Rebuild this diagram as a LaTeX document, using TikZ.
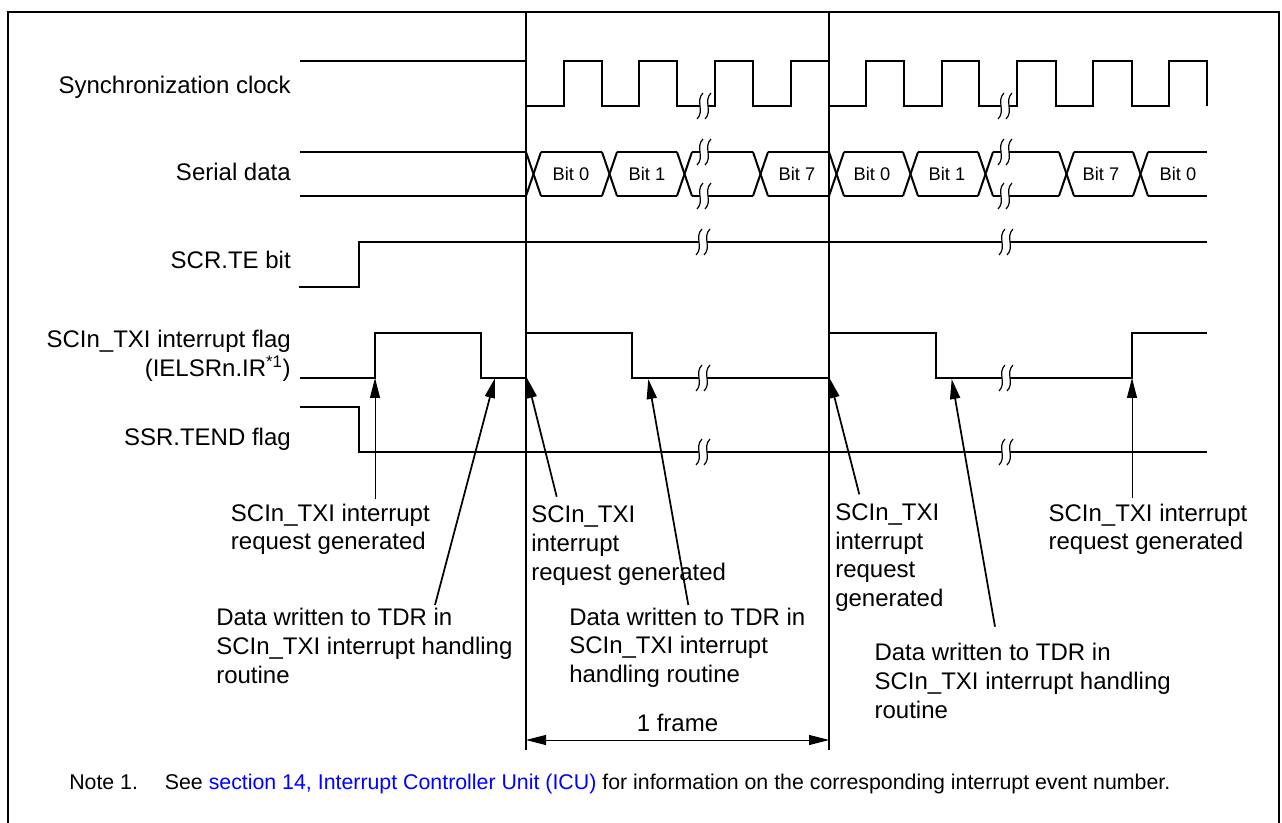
\documentclass[tikz,border=0pt]{standalone}
\usepackage{fontspec}
\setmainfont{Liberation Sans}
\usetikzlibrary{arrows.meta}
\definecolor{linkblue}{RGB}{0,0,255}
\newcommand\BreakMark[2]{%
  \fill[white] (#1-4,#2-3) rectangle (#1+4,#2+3);
  \draw[brkline] (#1-4+3,#2-13) .. controls (#1-4-5,#2-5) and (#1-4+5,#2+5) .. (#1-4-3,#2+13);
  \draw[brkline] (#1+4+3,#2-13) .. controls (#1+4-5,#2-5) and (#1+4+5,#2+5) .. (#1+4-3,#2+13);
}
\begin{document}
\begin{tikzpicture}[x=0.75pt,y=-0.75pt,
  sig/.style={line width=1.5pt},
  frameline/.style={line width=0.9pt},
  brkline/.style={line width=0.9pt},
  ptr/.style={line width=1.3pt,-{Triangle[length=15pt,width=7.5pt]}},
  thinptr/.style={line width=0.75pt,-{Triangle[length=15pt,width=7.5pt]}},
  dim/.style={line width=0.75pt,{Triangle[length=15pt,width=7.5pt]}-{Triangle[length=15pt,width=7.5pt]}},
  lbl/.style={font={\fontsize{18pt}{21.5pt}\selectfont},inner sep=0pt},
  blbl/.style={lbl,anchor=north west,align=left},
  bitlbl/.style={font={\fontsize{13.7pt}{16pt}\selectfont},inner sep=0pt},
  notelbl/.style={font={\fontsize{16pt}{19pt}\selectfont},inner sep=0pt,anchor=base west}]
\useasboundingbox (0,0) rectangle (1282,823);
% outer frame
\draw[line width=2pt] (8,823) -- (8,12) -- (1279,12) -- (1279,823);
% frame boundary lines
\draw[frameline] (526,12) -- (526,750);
\draw[frameline] (829,12) -- (829,750);
% left labels
\node[lbl,anchor=base east] (lclk) at (291,94) {Synchronization clock};
\node[lbl,anchor=base east] (lser) at (291,181) {Serial data};
\node[lbl,anchor=base east] (lte) at (291,269) {SCR.TE bit};
\node[lbl,anchor=north east,align=right] (ltxi) at (291,330) {SCIn\_TXI interrupt flag\\(IELSRn.IR\textsuperscript{*1})};
\node[lbl,anchor=base east] (ltend) at (291,446) {SSR.TEND flag};
% clock
\draw[sig] (300,61) -- (526,61) -- (526,106) -- (564,106) -- (564,61) -- (602,61) -- (602,106)
  -- (639,106) -- (639,61) -- (677,61) -- (677,106) -- (715,106) -- (715,61) -- (753,61)
  -- (753,106) -- (791,106) -- (791,61) -- (829,61) -- (829,106) -- (866,106) -- (866,61)
  -- (904,61) -- (904,106) -- (942,106) -- (942,61) -- (979,61) -- (979,106) -- (1017,106)
  -- (1017,61) -- (1056,61) -- (1056,106) -- (1093,106) -- (1093,61) -- (1132,61) -- (1132,106)
  -- (1169,106) -- (1169,61) -- (1207,61) -- (1207,106);
% serial data
\foreach \a/\b in {300/526,541/602,617/677,692/753,768/829,844/903,918/978,993/1059,1074/1133,1148/1207}
  {\draw[sig] (\a,152) -- (\b,152); \draw[sig] (\a,196) -- (\b,196);}
\foreach \t in {526,602,677,753,829,903,978,1059,1133}
  {\draw[sig] (\t,152) -- (\t+15,196); \draw[sig] (\t,196) -- (\t+15,152);}
\node[bitlbl] (b1) at (571,174) {Bit 0};
\node[bitlbl] (b2) at (647,174) {Bit 1};
\node[bitlbl] (b3) at (797,174) {Bit 7};
\node[bitlbl] (b4) at (872,174) {Bit 0};
\node[bitlbl] (b5) at (947,174) {Bit 1};
\node[bitlbl] (b6) at (1101,174) {Bit 7};
\node[bitlbl] (b7) at (1178,174) {Bit 0};
% SCR.TE
\draw[sig] (299,287) -- (359,287) -- (359,242) -- (1207,242);
% TXI flag
\draw[sig] (300,378) -- (375,378) -- (375,333) -- (481,333) -- (481,378) -- (526,378) -- (526,333)
  -- (632,333) -- (632,378) -- (829,378) -- (829,333) -- (936,333) -- (936,378) -- (1132,378)
  -- (1132,333) -- (1207,333);
% TEND
\draw[sig] (300,407) -- (359,407) -- (359,452) -- (1207,452);
% break marks
\foreach \x/\y in {704/106,704/152,704/196,703/242,703/378,703/452,1005/106,1005/152,1005/196,1006/242,1006/378,1006/452}
  {\BreakMark{\x}{\y}}
% bottom labels
\node[blbl] (l1) at (230.7,503.5) {SCIn\_TXI interrupt\\request generated};
\node[blbl] (l2) at (216,608.2) {Data written to TDR in\\SCIn\_TXI interrupt handling\\routine};
\node[blbl] (l3) at (531,505.8) {SCIn\_TXI\\interrupt\\request generated};
\node[blbl] (l4) at (569,607.5) {Data written to TDR in\\SCIn\_TXI interrupt\\handling routine};
\node[blbl] (l5) at (835,503.5) {SCIn\_TXI\\interrupt\\request\\generated};
\node[blbl] (l6) at (874.3,643.2) {Data written to TDR in\\SCIn\_TXI interrupt handling\\routine};
\node[blbl] (l7) at (1048.3,503.5) {SCIn\_TXI interrupt\\request generated};
% arrow ends
\coordinate (s1) at (375,499);   \coordinate (t1) at (375,378);
\coordinate (s2) at (435,605);   \coordinate (t2) at (495,378);
\coordinate (s3) at (556.7,496.7); \coordinate (t3) at (527,378);
\coordinate (s4) at (688.3,605); \coordinate (t4) at (648.3,379);
\coordinate (s5) at (859.3,494.3); \coordinate (t5) at (829.5,378);
\coordinate (s6) at (995,626.7); \coordinate (t6) at (951.7,379);
\coordinate (s7) at (1132,498.3); \coordinate (t7) at (1132,378);
\draw[thinptr] (s1) -- (t1);
\draw[ptr] (s2) -- (t2);
\draw[ptr] (s3) -- (t3);
\draw[ptr] (s4) -- (t4);
\draw[ptr] (s5) -- (t5);
\draw[ptr] (s6) -- (t6);
\draw[thinptr] (s7) -- (t7);
% 1 frame
\coordinate (fa) at (526,740);
\coordinate (fb) at (829,740);
\draw[dim] (fa) -- (fb);
\node[lbl,anchor=base] (fr) at (677.5,731.7) {1 frame};
% note
\node[notelbl] (n1) at (69,789) {Note 1.};
\node[notelbl] (n2) at (164.6,789) {See \textcolor{linkblue}{section 14, Interrupt Controller Unit (ICU)} for information on the corresponding interrupt event number.};
\end{tikzpicture}
\end{document}
